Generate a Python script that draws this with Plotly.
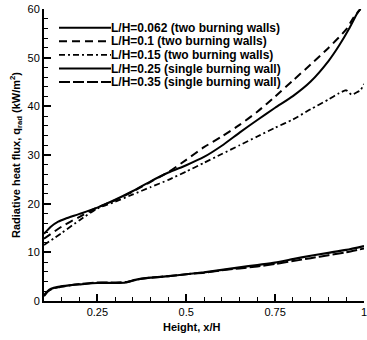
import plotly.graph_objects as go

# ---------------- data ----------------
names = [
    "L/H=0.062 (two burning walls)",
    "L/H=0.1 (two burning walls)",
    "L/H=0.15 (two burning walls)",
    "L/H=0.25 (single burning wall)",
    "L/H=0.35 (single burning wall)",
]

x_062 = [0.1, 0.12, 0.14, 0.16, 0.2, 0.25, 0.3, 0.35, 0.4, 0.45, 0.5, 0.55, 0.6, 0.65, 0.7, 0.75, 0.8, 0.85, 0.9, 0.93, 0.96, 0.98, 0.99]
y_062 = [13.8, 15.3, 16.3, 16.9, 17.9, 19.2, 20.8, 22.6, 24.6, 26.4, 27.9, 29.6, 31.9, 34.6, 37.2, 39.7, 42.1, 45.1, 49.3, 52.5, 56.2, 59.0, 60.0]

x_01 = [0.1, 0.15, 0.2, 0.25, 0.3, 0.35, 0.4, 0.45, 0.5, 0.55, 0.6, 0.65, 0.7, 0.75, 0.8, 0.85, 0.9, 0.95, 0.97, 0.99]
y_01 = [12.8, 15.3, 17.3, 19.2, 20.7, 22.5, 24.5, 26.5, 29.0, 31.6, 33.8, 36.2, 38.9, 42.0, 45.3, 48.6, 52.0, 55.8, 58.2, 60.0]

x_015 = [0.1, 0.15, 0.2, 0.25, 0.3, 0.35, 0.4, 0.45, 0.5, 0.55, 0.6, 0.65, 0.7, 0.75, 0.8, 0.85, 0.9, 0.93, 0.95, 0.965, 0.98, 0.99, 1.0]
y_015 = [11.5, 14.0, 16.6, 19.0, 20.4, 21.9, 23.4, 24.9, 26.6, 28.4, 30.2, 32.0, 33.8, 35.6, 37.3, 39.4, 41.4, 42.7, 43.3, 42.4, 42.9, 43.3, 44.6]

x_low = [0.1, 0.11, 0.12, 0.14, 0.17, 0.2, 0.25, 0.3, 0.33, 0.36, 0.4, 0.45, 0.5, 0.55, 0.6, 0.65, 0.7, 0.75, 0.8, 0.85, 0.9, 0.95, 1.0]
y_025 = [1.2, 2.0, 2.5, 2.9, 3.2, 3.4, 3.7, 3.7, 3.8, 4.4, 4.8, 5.1, 5.5, 5.9, 6.4, 6.9, 7.4, 7.9, 8.6, 9.3, 9.9, 10.5, 11.3]
y_035 = [1.0, 1.9, 2.4, 2.8, 3.2, 3.5, 3.8, 3.8, 3.9, 4.4, 4.8, 5.1, 5.5, 5.8, 6.3, 6.7, 7.1, 7.6, 8.2, 8.8, 9.4, 10.0, 10.8]

x_tickvals = [0.25, 0.5, 0.75, 1]
x_ticktext = ["0.25", "0.5", "0.75", "1"]
y_tickvals = [0, 10, 20, 30, 40, 50, 60]

x_title = "Height, x/H"
y_title = "Radiative heat flux, q<sub>rad</sub> (kW/m<sup>2</sup>)"

series = [
    (x_062, y_062),
    (x_01, y_01),
    (x_015, y_015),
    (x_low, y_025),
    (x_low, y_035),
]
dashes = ["solid", "8px,5px", "6px,3px,2px,3px", "solid", "11px,3px"]
widths = [2, 2, 1.8, 2.2, 2]

FONT = "Liberation Sans, Arial"
PW = 320  # plot width in px (367 - 44 - 3)

fig = go.Figure()
for (xs, ys), nm, d, w in zip(series, names, dashes, widths):
    fig.add_trace(go.Scatter(x=xs, y=ys, mode="lines", name=nm,
                             line=dict(color="black", width=w, dash=d, shape="spline", smoothing=0.6),
                             showlegend=False))

# manual compact legend
L0, L1 = (59 - 44) / PW, (111 - 44) / PW
for i, (nm, d, w) in enumerate(zip(names, dashes, widths)):
    yy = (301 - (27.7 + 13.6 * i)) / 292
    fig.add_shape(type="line", xref="paper", yref="paper", x0=L0, x1=L1, y0=yy, y1=yy,
                  line=dict(color="black", width=w, dash=d))
    fig.add_annotation(xref="paper", yref="paper", x=L1, y=yy, text="<b>" + nm + "</b>",
                       showarrow=False, xanchor="left", yanchor="middle", xshift=-2,
                       font=dict(family=FONT, size=12, color="black"))

# x axis title (slightly left of the plot centre, as in the reference)
fig.add_annotation(xref="paper", yref="paper", x=(192 - 44) / PW, y=0, yshift=-26,
                   text="<b>" + x_title + "</b>", showarrow=False,
                   xanchor="center", yanchor="middle",
                   font=dict(family=FONT, size=11, color="black"))

axis_common = dict(showline=True, linewidth=2, linecolor="black", ticks="inside",
                   ticklen=7, tickwidth=1.5, tickcolor="black", showgrid=False, zeroline=False,
                   mirror=False, ticklabeloverflow="allow",
                   tickfont=dict(family=FONT, size=11, color="black"))

fig.update_xaxes(range=[0.1, 1], tickvals=x_tickvals, ticktext=x_ticktext,
                 minor=dict(ticks="inside", ticklen=4, tickwidth=1, tickcolor="black", dtick=0.05, tick0=0),
                 **axis_common)
fig.update_yaxes(range=[0, 60], tickvals=y_tickvals,
                 minor=dict(ticks="inside", ticklen=4, tickwidth=1, tickcolor="black", dtick=2, tick0=0),
                 title=dict(text="<b>" + y_title + "</b>", standoff=5,
                            font=dict(family=FONT, size=11, color="black")),
                 **axis_common)

fig.update_layout(width=367, height=340, margin=dict(l=44, r=3, t=9, b=39, autoexpand=False),
                  plot_bgcolor="white", paper_bgcolor="white")

fig.write_html("out.html")
